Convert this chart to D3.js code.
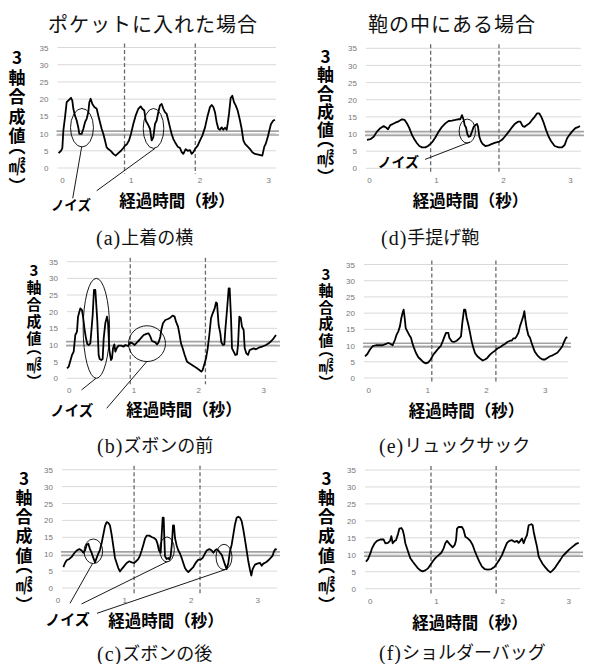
<!DOCTYPE html>
<html>
<head>
<meta charset="utf-8">
<script src="https://cdn.jsdelivr.net/npm/d3@7"></script>
<style>
  body { margin: 0; background: #fff; }
  svg { display: block; }
</style>
</head>
<body>
<div id="vis-container"></div>
<script>
// ---- data (time in seconds, 3-axis magnitude in m/s^2) ----
const yTicks = [0, 5, 10, 15, 20, 25, 30, 35];
const xTicks = [0, 1, 2, 3];

// (a) jacket side pocket
const seriesA = [[-0.05,4.3],[-0.015,5.0],[0.005,5.8],[0.02,10.9],[0.044,14.8],[0.068,19.1],[0.102,19.8],[0.131,20.4],[0.15,19.6],[0.165,17.2],[0.189,15.2],[0.214,13.8],[0.238,11.7],[0.252,9.9],[0.286,9.9],[0.311,11.4],[0.335,13.3],[0.359,14.3],[0.383,16.2],[0.398,19.1],[0.417,20.1],[0.442,18.6],[0.471,17.7],[0.505,17.2],[0.529,15.2],[0.553,13.3],[0.577,11.4],[0.602,9.9],[0.626,8.0],[0.65,6.0],[0.674,5.5],[0.713,4.9],[0.747,4.1],[0.781,3.6],[0.82,4.3],[0.859,5.0],[0.893,5.8],[0.917,6.5],[0.941,6.8],[0.975,8.0],[1.004,9.9],[1.038,12.8],[1.072,15.2],[1.111,17.2],[1.145,17.9],[1.169,17.2],[1.198,16.7],[1.218,13.8],[1.247,12.8],[1.281,11.4],[1.305,8.0],[1.329,8.9],[1.354,12.8],[1.378,13.8],[1.402,16.2],[1.426,18.2],[1.451,18.6],[1.475,17.2],[1.499,16.2],[1.524,15.7],[1.548,13.8],[1.572,11.8],[1.596,9.9],[1.621,8.4],[1.645,7.5],[1.684,6.2],[1.718,5.8],[1.742,4.6],[1.766,4.1],[1.8,5.5],[1.829,5.0],[1.863,5.2],[1.887,4.1],[1.912,4.6],[1.936,5.5],[1.975,6.5],[2.009,8.0],[2.043,9.4],[2.082,11.8],[2.12,15.2],[2.154,17.7],[2.179,18.3],[2.203,17.7],[2.227,16.2],[2.251,13.3],[2.276,11.4],[2.3,11.1],[2.324,11.8],[2.348,11.1],[2.373,11.7],[2.397,11.1],[2.411,12.8],[2.431,15.7],[2.455,20.3],[2.479,21.0],[2.504,19.1],[2.528,18.2],[2.557,16.7],[2.591,13.8],[2.615,11.4],[2.64,8.0],[2.664,7.0],[2.703,6.2],[2.737,5.5],[2.77,4.6],[2.809,4.1],[2.858,3.9],[2.916,3.6],[2.945,6.2],[2.965,7.0],[2.994,8.9],[3.018,10.9],[3.042,12.8],[3.076,13.8],[3.1,14.0]];

// (b) trouser front pocket
const seriesB = [[-0.026,3.0],[0.0,3.5],[0.025,5.2],[0.051,7.0],[0.077,8.0],[0.102,13.0],[0.128,14.0],[0.144,18.5],[0.18,21.0],[0.205,20.5],[0.221,18.5],[0.246,14.5],[0.267,12.0],[0.288,10.2],[0.308,10.0],[0.334,10.5],[0.349,14.0],[0.37,19.0],[0.39,26.5],[0.411,26.5],[0.426,22.0],[0.442,17.0],[0.462,7.0],[0.478,5.8],[0.504,5.5],[0.524,5.8],[0.54,12.0],[0.565,16.5],[0.591,18.5],[0.606,17.0],[0.627,8.5],[0.653,5.5],[0.668,6.0],[0.684,9.0],[0.704,10.2],[0.72,8.0],[0.745,9.2],[0.771,9.8],[0.812,9.8],[0.848,9.5],[0.874,10.0],[0.915,9.7],[0.951,10.8],[0.987,10.5],[1.018,10.0],[1.054,10.8],[1.09,11.5],[1.121,12.2],[1.157,13.0],[1.183,13.2],[1.208,13.4],[1.234,13.5],[1.26,12.5],[1.285,11.2],[1.311,11.0],[1.337,10.8],[1.363,10.2],[1.388,10.8],[1.414,12.5],[1.429,14.5],[1.455,16.5],[1.491,17.5],[1.532,17.8],[1.568,18.2],[1.604,18.8],[1.635,18.5],[1.656,17.0],[1.687,15.5],[1.707,13.5],[1.733,10.5],[1.759,9.0],[1.79,7.0],[1.826,5.0],[1.862,4.5],[1.903,4.0],[1.944,3.5],[1.98,3.0],[2.016,2.5],[2.047,2.0],[2.067,2.5],[2.098,4.5],[2.119,6.0],[2.145,9.0],[2.17,13.0],[2.196,18.0],[2.222,19.5],[2.253,21.0],[2.273,22.8],[2.289,22.5],[2.314,16.0],[2.34,13.5],[2.355,10.8],[2.381,10.0],[2.402,10.2],[2.417,14.5],[2.443,20.5],[2.469,27.0],[2.484,27.0],[2.505,18.0],[2.52,9.0],[2.546,8.0],[2.572,7.0],[2.597,7.2],[2.613,10.0],[2.633,18.5],[2.654,18.2],[2.674,15.5],[2.7,14.5],[2.716,9.0],[2.741,7.5],[2.767,7.0],[2.793,8.5],[2.818,8.7],[2.854,9.0],[2.89,8.7],[2.932,9.2],[2.973,9.4],[3.009,9.7],[3.045,10.0],[3.086,10.5],[3.127,11.2],[3.163,12.0],[3.199,13.0]];

// (c) trouser back pocket
const seriesC = [[0.088,6.2],[0.113,7.4],[0.138,8.2],[0.178,8.6],[0.213,9.2],[0.248,10.2],[0.288,11.1],[0.328,11.5],[0.363,11.1],[0.388,10.4],[0.413,11.1],[0.438,12.8],[0.463,13.1],[0.488,11.5],[0.513,10.4],[0.538,8.9],[0.563,7.6],[0.588,8.9],[0.613,10.2],[0.638,11.3],[0.663,13.3],[0.688,15.8],[0.713,18.3],[0.738,19.5],[0.763,19.3],[0.788,18.5],[0.813,15.8],[0.838,12.4],[0.863,8.9],[0.888,7.4],[0.913,5.9],[0.938,4.9],[0.964,5.6],[0.998,6.4],[1.039,7.4],[1.079,7.9],[1.114,7.6],[1.149,7.4],[1.179,7.9],[1.214,8.6],[1.239,9.6],[1.264,11.1],[1.289,12.8],[1.314,14.6],[1.339,15.5],[1.379,15.5],[1.414,15.1],[1.449,14.8],[1.479,14.3],[1.499,13.3],[1.524,11.1],[1.549,10.4],[1.569,17.3],[1.579,20.8],[1.594,20.8],[1.604,14.8],[1.614,9.4],[1.639,8.6],[1.664,8.9],[1.679,8.4],[1.699,9.4],[1.719,13.3],[1.734,18.5],[1.749,18.5],[1.764,14.8],[1.789,12.6],[1.814,11.1],[1.839,10.2],[1.864,8.9],[1.889,7.4],[1.914,5.9],[1.939,5.2],[1.964,4.7],[2.0,5.4],[2.039,6.2],[2.08,7.6],[2.115,8.4],[2.15,8.4],[2.18,8.9],[2.215,10.2],[2.24,11.1],[2.28,11.5],[2.315,11.1],[2.34,10.4],[2.365,11.1],[2.39,11.5],[2.415,11.1],[2.44,10.4],[2.465,9.9],[2.49,8.4],[2.515,6.9],[2.54,5.6],[2.565,7.4],[2.59,10.9],[2.615,12.8],[2.64,15.8],[2.665,18.8],[2.69,20.8],[2.715,21.1],[2.74,20.8],[2.765,19.8],[2.79,17.3],[2.815,14.3],[2.84,11.1],[2.865,7.9],[2.89,5.4],[2.91,3.7],[2.93,5.6],[2.965,6.9],[3.0,7.2],[3.041,7.4],[3.066,6.6],[3.091,7.2],[3.131,7.6],[3.166,8.2],[3.201,8.9],[3.231,9.6],[3.251,10.9],[3.271,11.5],[3.291,11.3]];

// (d) handbag
const seriesD = [[-0.03,8.3],[0.02,8.5],[0.07,9.2],[0.119,10.7],[0.169,11.7],[0.219,12.3],[0.254,11.9],[0.284,11.4],[0.318,12.6],[0.353,12.9],[0.393,13.3],[0.443,13.7],[0.493,14.3],[0.532,14.1],[0.567,13.1],[0.602,11.7],[0.642,9.7],[0.682,8.3],[0.716,7.3],[0.751,6.5],[0.791,6.1],[0.841,6.1],[0.881,6.5],[0.915,7.1],[0.95,7.8],[0.99,9.0],[1.04,10.7],[1.09,12.1],[1.139,13.1],[1.189,13.8],[1.239,13.9],[1.289,14.1],[1.328,14.3],[1.363,14.3],[1.388,15.5],[1.413,14.1],[1.428,12.6],[1.448,11.9],[1.468,10.0],[1.488,9.2],[1.512,9.4],[1.537,10.7],[1.562,12.1],[1.587,12.6],[1.612,12.9],[1.627,12.1],[1.647,9.2],[1.672,7.8],[1.697,7.1],[1.736,6.5],[1.786,6.7],[1.836,7.1],[1.886,7.5],[1.945,7.8],[1.985,8.3],[2.025,9.2],[2.075,10.4],[2.124,11.7],[2.174,12.9],[2.224,13.6],[2.259,13.6],[2.294,12.3],[2.323,12.1],[2.358,12.6],[2.393,13.1],[2.433,14.1],[2.473,15.0],[2.507,16.0],[2.542,16.0],[2.572,15.0],[2.607,13.3],[2.642,11.2],[2.682,9.2],[2.721,7.8],[2.771,6.5],[2.831,6.1],[2.881,6.1],[2.92,6.8],[2.955,8.7],[2.99,9.7],[3.03,10.7],[3.08,11.7],[3.129,12.1],[3.149,12.3]];

// (e) rucksack
const seriesE = [[-0.056,6.7],[-0.016,7.4],[0.029,8.8],[0.074,9.8],[0.131,10.1],[0.188,10.1],[0.244,10.1],[0.301,10.5],[0.341,10.8],[0.38,10.5],[0.414,10.1],[0.454,11.8],[0.482,13.4],[0.511,14.4],[0.539,16.0],[0.562,18.5],[0.584,20.1],[0.601,21.1],[0.619,18.5],[0.636,15.4],[0.664,14.4],[0.698,13.2],[0.726,12.4],[0.749,10.8],[0.777,9.3],[0.811,7.7],[0.851,6.4],[0.891,5.7],[0.936,4.9],[0.981,4.5],[1.021,4.8],[1.061,5.7],[1.106,7.2],[1.151,8.2],[1.191,9.1],[1.231,9.8],[1.265,11.3],[1.299,12.9],[1.321,13.9],[1.361,13.9],[1.378,12.4],[1.418,11.3],[1.457,11.1],[1.503,11.5],[1.548,12.2],[1.577,12.9],[1.599,17.0],[1.628,21.1],[1.65,21.1],[1.673,18.5],[1.701,16.5],[1.73,13.9],[1.758,11.3],[1.786,9.3],[1.815,7.7],[1.854,6.7],[1.9,6.0],[1.945,5.4],[1.985,5.7],[2.024,6.2],[2.07,7.2],[2.115,7.9],[2.155,8.4],[2.194,9.1],[2.24,9.5],[2.285,10.1],[2.325,10.5],[2.364,11.1],[2.41,11.5],[2.438,11.5],[2.466,12.2],[2.495,12.2],[2.523,12.9],[2.552,13.9],[2.58,16.0],[2.608,17.5],[2.637,19.1],[2.654,20.6],[2.671,18.0],[2.693,15.4],[2.722,13.2],[2.75,12.4],[2.778,10.8],[2.807,9.3],[2.835,8.0],[2.875,7.0],[2.92,6.2],[2.965,5.7],[3.005,5.7],[3.045,6.2],[3.09,6.7],[3.136,7.0],[3.175,7.4],[3.215,7.8],[3.26,8.8],[3.3,9.8],[3.328,11.1],[3.362,12.4],[3.385,12.6]];

// (f) shoulder bag
const seriesF = [[-0.056,8.0],[-0.026,8.7],[0.01,10.4],[0.035,11.9],[0.075,13.4],[0.11,14.1],[0.161,14.5],[0.211,14.5],[0.236,13.4],[0.276,13.5],[0.307,14.1],[0.327,15.5],[0.347,13.4],[0.377,14.1],[0.397,14.3],[0.427,16.1],[0.448,17.7],[0.478,17.9],[0.498,17.3],[0.518,15.8],[0.538,13.4],[0.563,11.9],[0.589,10.4],[0.614,9.0],[0.649,8.0],[0.689,7.0],[0.73,6.0],[0.765,5.4],[0.8,5.1],[0.84,5.4],[0.881,6.0],[0.916,7.0],[0.951,8.0],[0.991,9.0],[1.042,9.9],[1.082,10.6],[1.117,11.9],[1.142,13.4],[1.168,14.1],[1.193,13.5],[1.218,12.9],[1.253,12.2],[1.284,12.9],[1.304,14.3],[1.319,17.7],[1.344,18.2],[1.394,18.2],[1.419,17.3],[1.445,15.3],[1.485,14.8],[1.52,14.1],[1.555,12.9],[1.586,11.2],[1.621,9.5],[1.656,8.0],[1.696,6.5],[1.737,5.8],[1.787,5.6],[1.837,5.8],[1.888,6.5],[1.923,7.5],[1.958,8.5],[1.998,9.9],[2.039,11.9],[2.074,13.5],[2.109,14.1],[2.15,14.3],[2.19,13.8],[2.225,14.1],[2.25,13.5],[2.275,14.1],[2.301,14.8],[2.326,13.4],[2.351,14.8],[2.376,15.8],[2.401,18.7],[2.442,19.0],[2.462,18.7],[2.477,16.8],[2.502,14.5],[2.527,12.4],[2.552,9.5],[2.578,8.5],[2.613,7.3],[2.653,6.3],[2.693,5.4],[2.729,4.8],[2.764,5.4],[2.804,6.3],[2.844,7.5],[2.88,8.5],[2.915,9.6],[2.965,10.6],[3.016,11.6],[3.066,12.4],[3.116,13.2],[3.157,13.5]];

// step boundaries (dashed) and gravity band per panel
const dashA = [0.91, 1.94], dashB = [0.95, 2.11], dashC = [1.15, 2.14];
const dashD = [0.92, 1.94], dashE = [1.08, 2.17], dashF = [0.926, 1.91];
const bandA = [9.6, 10.7], bandB = [9.8, 11.0], bandC = [9.6, 10.7];
const bandD = [9.6, 10.7], bandE = [9.6, 10.7], bandF = [9.6, 10.7];

// noise markers: ellipse [t, v, rt, rv], leader [t1, v1, t2, v2], label [t, v]
const noiseA = { ellipses: [[0.291, 11.7, 0.167, 5.6], [1.332, 11.5, 0.15, 5.8]],
  leaders: [[0.287, 6.2, 0.156, -8.8], [1.354, 5.7, 0.505, -6.6]], label: [0.13, -10.5] };
const noiseB = { ellipses: [[0.427, 15.0, 0.204, 15.0], [1.208, 10.4, 0.285, 5.37]],
  leaders: [[0.421, 0, 0.198, -3.5], [1.204, 5.0, 0.586, -9.0]], label: [0.046, -9.5] };
const noiseC = { ellipses: [[0.538, 10.86, 0.14, 3.64], [1.644, 11.4, 0.11, 3.7], [2.5, 9.17, 0.12, 3.76]],
  leaders: [[0.526, 7.25, 0.188, -4.53], [1.652, 7.84, 0.36, -4.73], [2.523, 5.47, 0.593, -7.49]], label: [0.15, -8.9] };
const noiseD = { ellipses: [[1.467, 10.85, 0.122, 3.5]],
  leaders: [[1.507, 7.67, 0.836, 2.59]], label: [0.437, 2.19] };

const headTitles = ["ポケットに入れた場合", "鞄の中にある場合"];
const captions = [["(a)", "上着の横"], ["(b)", "ズボンの前"], ["(c)", "ズボンの後"],
                  ["(d)", "手提げ鞄"], ["(e)", "リュックサック"], ["(f)", "ショルダーバッグ"]];
const yTitle = "3軸合成値（㎨）";
const xTitle = "経過時間（秒）";
const noiseText = "ノイズ";

// ---- layout ----
const W = 589, H = 664;
const jp = "'Noto Sans CJK JP', 'Noto Sans', sans-serif";
const serifJp = "'Liberation Serif', 'Noto Sans CJK JP', serif";

var svg = d3.select("#vis-container").append("svg")
  .attr("width", W).attr("height", H);

const panels = [
  { s: seriesA, dash: dashA, band: bandA, noise: noiseA, noiseSize: 13.5, cap: captions[0],
    x0: 62, x3: 268.1, y0: 168, y35: 47.5, left: 57.5, right: 276,
    yt: { x: 17, y: 58, step: 19.4, size: 17 }, xt: [177, 200], capPos: [96, 238] },
  { s: seriesB, dash: dashB, band: bandB, noise: noiseB, noiseSize: 14.5, cap: captions[1],
    x0: 68.7, x3: 263.1, y0: 378.3, y35: 261.7, left: 67, right: 277,
    yt: { x: 34, y: 270, step: 17, size: 15 }, xt: [184, 408.5], capPos: [97, 446] },
  { s: seriesC, dash: dashC, band: bandC, noise: noiseC, noiseSize: 15, cap: captions[2],
    x0: 57.5, x3: 257.3, y0: 588, y35: 469.7, left: 62, right: 277,
    yt: { x: 24, y: 478.3, step: 19.2, size: 17 }, xt: [166, 620], capPos: [97, 654] },
  { s: seriesD, dash: dashD, band: bandD, noise: noiseD, noiseSize: 14, cap: captions[3],
    x0: 369, x3: 570, y0: 168.3, y35: 48.3, left: 366, right: 581,
    yt: { x: 325.5, y: 56.7, step: 18.3, size: 17 }, xt: [470.5, 200], capPos: [381, 238] },
  { s: seriesE, dash: dashE, band: bandE, noise: null, cap: captions[4],
    x0: 368.3, x3: 544.7, y0: 378, y35: 264.5, left: 364, right: 568,
    yt: { x: 326, y: 274, step: 16.6, size: 15 }, xt: [466.5, 410], capPos: [379, 446] },
  { s: seriesF, dash: dashF, band: bandF, noise: null, cap: captions[5],
    x0: 369.7, x3: 568.3, y0: 588.7, y35: 470, left: 365, right: 580,
    yt: { x: 326.5, y: 478.3, step: 19.2, size: 17 }, xt: [470, 621.5], capPos: [379, 653] }
];

function drawPanel(p) {
  const x = d3.scaleLinear().domain([0, 3]).range([p.x0, p.x3]);
  const y = d3.scaleLinear().domain([0, 35]).range([p.y0, p.y35]);
  const g = svg.append("g");

  // gridlines
  g.selectAll(".grid").data(yTicks).enter().append("line")
    .attr("class", "grid")
    .attr("x1", p.left).attr("x2", p.right)
    .attr("y1", d => y(d)).attr("y2", d => y(d))
    .attr("stroke", "#d9d9d9").attr("stroke-width", 1);

  // y tick labels
  const ya = g.append("g").attr("transform", "translate(" + p.left + ",0)")
    .call(d3.axisLeft(y).tickValues(yTicks).tickSize(0).tickPadding(9));
  // x tick labels
  const xa = g.append("g").attr("transform", "translate(0," + p.y0 + ")")
    .call(d3.axisBottom(x).tickValues(xTicks).tickSize(0).tickPadding(9.5).tickFormat(d3.format("d")));
  [ya, xa].forEach(a => {
    a.select(".domain").remove();
    a.selectAll("text").attr("font-family", "'Liberation Sans', Arial, sans-serif")
      .attr("font-size", 8).attr("fill", "#777");
  });

  // gravity band (double grey line)
  g.selectAll(".band").data(p.band).enter().append("line")
    .attr("x1", p.left - 1).attr("x2", p.right + 3)
    .attr("y1", d => y(d)).attr("y2", d => y(d))
    .attr("stroke", "#a3a3a3").attr("stroke-width", 1.6);

  // step boundaries
  g.selectAll(".dash").data(p.dash).enter().append("line")
    .attr("x1", d => x(d)).attr("x2", d => x(d))
    .attr("y1", y(35) - 4).attr("y2", y(0) + 6)
    .attr("stroke", "#6b6b6b").attr("stroke-width", 1.3)
    .attr("stroke-dasharray", "4,2.5");

  // acceleration trace
  const line = d3.line().x(d => x(d[0])).y(d => y(d[1]));
  g.append("path").datum(p.s)
    .attr("d", line)
    .attr("fill", "none").attr("stroke", "#000")
    .attr("stroke-width", 1.8).attr("stroke-linejoin", "round");

  // noise annotations
  if (p.noise) {
    g.selectAll(".ell").data(p.noise.ellipses).enter().append("ellipse")
      .attr("cx", d => x(d[0])).attr("cy", d => y(d[1]))
      .attr("rx", d => x(d[0] + d[2]) - x(d[0]))
      .attr("ry", d => y(d[1]) - y(d[1] + d[3]))
      .attr("fill", "none").attr("stroke", "#000").attr("stroke-width", 0.9);
    g.selectAll(".lead").data(p.noise.leaders).enter().append("line")
      .attr("x1", d => x(d[0])).attr("y1", d => y(d[1]))
      .attr("x2", d => x(d[2])).attr("y2", d => y(d[3]))
      .attr("stroke", "#000").attr("stroke-width", 0.9);
    g.append("text")
      .attr("x", x(p.noise.label[0])).attr("y", y(p.noise.label[1]))
      .attr("text-anchor", "middle").attr("dominant-baseline", "central")
      .attr("font-family", jp).attr("font-weight", 700).attr("font-size", p.noiseSize)
      .text(noiseText);
  }

  // vertical y title (real vertical writing, half-width brackets)
  g.append("text")
    .attr("x", p.yt.x).attr("y", p.yt.y - p.yt.size / 2)
    .attr("font-family", jp).attr("font-weight", 700).attr("font-size", p.yt.size)
    .style("writing-mode", "vertical-rl")
    .style("text-orientation", "upright")
    .style("font-feature-settings", "'vhal' 1")
    .style("letter-spacing", (p.yt.step - p.yt.size) + "px")
    .text(yTitle);

  // x title
  g.append("text")
    .attr("x", p.xt[0]).attr("y", p.xt[1])
    .attr("text-anchor", "middle").attr("dominant-baseline", "central")
    .attr("font-family", jp).attr("font-weight", 700).attr("font-size", 16.5)
    .text(xTitle);

  // caption below
  const cap = g.append("text")
    .attr("x", p.capPos[0]).attr("y", p.capPos[1])
    .attr("dominant-baseline", "central")
    .attr("font-family", serifJp).attr("fill", "#111");
  cap.append("tspan").attr("font-size", 20).attr("letter-spacing", 1).text(p.cap[0]);
  cap.append("tspan").attr("font-size", 18).text(p.cap[1]);
}

panels.forEach(drawPanel);

// column headings
svg.selectAll(".head").data(headTitles).enter().append("text")
  .attr("x", (d, i) => i === 0 ? 48 : 368)
  .attr("y", 25)
  .attr("dominant-baseline", "central")
  .attr("font-family", serifJp).attr("font-size", 20)
  .attr("letter-spacing", 1).attr("fill", "#111")
  .text(d => d);
</script>
</body>
</html>
